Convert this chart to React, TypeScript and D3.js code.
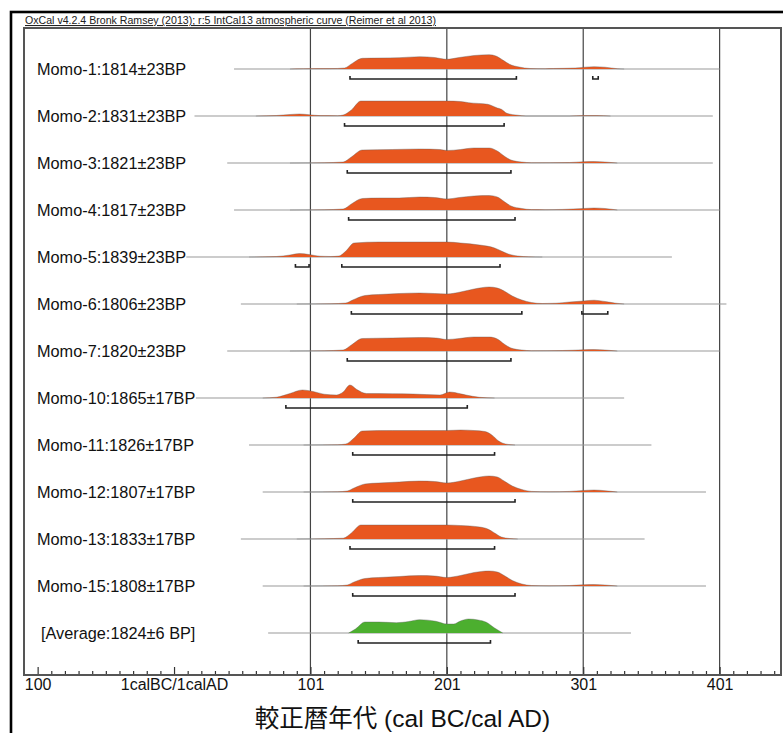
import React from "react";
import * as d3 from "d3";

const labels = [
  "Momo-1:1814±23BP",
  "Momo-2:1831±23BP",
  "Momo-3:1821±23BP",
  "Momo-4:1817±23BP",
  "Momo-5:1839±23BP",
  "Momo-6:1806±23BP",
  "Momo-7:1820±23BP",
  "Momo-10:1865±17BP",
  "Momo-11:1826±17BP",
  "Momo-12:1807±17BP",
  "Momo-13:1833±17BP",
  "Momo-15:1808±17BP",
  "[Average:1824±6 BP]",
];

// extent of each row's baseline (calendar axis units: 0 = 1calBC/1calAD boundary)
const lineStart = [44, 15, 39, 44, 9, 49, 39, 16, 55, 65, 49, 65, 69];
const lineEnd = [400, 395, 395, 400, 365, 405, 400, 330, 350, 390, 345, 390, 335];

// probability distributions [year, relative probability]
const densities: [number, number][][] = [
  [[85,0],[95,0.3],[115,0.4],[125,1],[130,5],[138,10.7],[151,11],[165,11.3],[180,12.3],[191,11.5],[200,9.7],[209,11.5],[220,13.5],[231,14.3],[236,13],[241,9],[246,4.7],[253,2],[261,0.5],[272,0.3],[278,0.5],[294,1],[301,1.8],[308,2.3],[316,1.8],[325,0.3],[330,0]],
  [[60,0],[75,0.5],[85,1.5],[92,2],[99,1.3],[107,0.4],[120,0.3],[124,1],[130,6],[137,15],[160,15],[180,15],[200,15],[210,14.5],[216,13.3],[230,11.7],[237,8],[240,6.7],[244,2.7],[252,0.8],[258,0],[290,0],[300,0.5],[310,0.5],[320,0]],
  [[85,0],[110,0.3],[124,1],[130,6],[138,13],[160,13.5],[180,14],[195,13.5],[200,12.5],[210,13.5],[220,15],[231,15],[237,12],[242,7],[247,3],[255,1],[262,0.3],[290,0.5],[300,1.3],[308,1.5],[316,1],[325,0]],
  [[85,0],[110,0.3],[124,1],[130,6],[138,11.5],[151,12],[165,12],[180,13],[191,12.5],[200,11],[209,12.5],[220,14],[231,14.5],[237,13],[242,8.5],[247,4],[255,1.5],[262,0.4],[272,0.3],[285,0.6],[300,1.5],[308,2],[316,1.5],[325,0]],
  [[55,0],[75,0.5],[85,2],[92,3.5],[99,2.5],[107,0.8],[115,0.5],[121,1],[126,6],[132,14],[150,15],[180,15],[200,15],[210,14],[224,12],[235,9],[240,6],[245,3],[252,1],[260,0.2],[270,0]],
  [[90,0],[115,0.3],[126,1],[131,4],[140,8.5],[150,9.5],[165,10.5],[180,11],[191,10.5],[200,10],[210,12],[220,15],[231,17],[237,16],[242,13],[248,8],[255,4],[262,1.5],[270,0.5],[280,0.8],[290,2],[300,3],[308,3.8],[316,2.5],[324,0.8],[330,0]],
  [[85,0],[110,0.3],[124,1],[130,6],[138,12.5],[160,13],[180,13.5],[192,13],[200,11.5],[209,12.5],[220,14],[231,14],[237,12],[242,7],[247,3],[255,1],[262,0.3],[285,0.5],[300,1.2],[308,1.5],[316,1],[325,0]],
  [[65,0],[75,0.8],[85,4.5],[94,8],[102,6.5],[110,3.8],[119,3],[124,6],[129,13],[134,8.5],[141,4.5],[160,4.3],[175,4],[195,3],[202,6],[210,4.2],[214,3],[224,0.7],[235,0]],
  [[95,0],[120,0.3],[126,1],[132,7],[138,14],[160,14.5],[180,14.5],[200,14.5],[210,15],[220,14.5],[228,13.5],[233,10],[238,4],[243,1],[250,0]],
  [[95,0],[120,0.3],[127,1],[132,4],[140,8],[150,9],[165,10],[180,11],[191,10.5],[200,9],[210,11],[220,14],[231,16],[237,15],[242,11],[248,6],[255,2.5],[262,0.6],[275,0.2],[290,0.6],[300,1.5],[308,2],[316,1.3],[325,0]],
  [[90,0],[110,0.3],[124,0.8],[130,6],[137,14],[160,14],[180,14],[200,14],[210,13.5],[224,12],[230,10],[235,6],[240,2],[246,0.5],[252,0]],
  [[95,0],[120,0.3],[127,1],[132,4],[140,7.5],[150,8.5],[165,9.5],[180,10.5],[191,10],[200,8.5],[210,10.5],[220,13.5],[231,15],[237,14],[242,10.5],[248,5.5],[255,2],[262,0.5],[275,0.2],[290,0.5],[300,1.2],[308,1.5],[316,1],[325,0]],
  [[128,0],[133,4],[140,11],[150,11],[163,10.3],[172,11.5],[180,13.3],[192,11.7],[200,9],[205,9],[210,12],[216,14],[223,13],[229,10.7],[235,5],[241,0]],
];

// 95.4% ranges
const ranges: [number, number][][] = [
  [[129, 251], [307, 311]],
  [[125, 242]],
  [[127, 247]],
  [[128, 250]],
  [[89, 99], [123, 239]],
  [[130, 255], [299, 318]],
  [[127, 247]],
  [[82, 215]],
  [[131, 235]],
  [[131, 250]],
  [[129, 235]],
  [[131, 250]],
  [[135, 232]],
];

const majorTicks = [-100, 0, 100, 200, 300, 400];
const tickLabels = ["100", "1calBC/1calAD", "101", "201", "301", "401"];
const gridValues = [100, 200, 300, 400];

const headerText =
  "OxCal v4.2.4 Bronk Ramsey (2013); r:5 IntCal13 atmospheric curve (Reimer et al 2013)";
const axisTitle = "較正暦年代 (cal BC/cal AD)";

const W = 783;
const H = 733;
const FONT = "'Liberation Sans', Arial, 'Noto Sans CJK JP', sans-serif";

export default function App() {
  const left = 24, right = 781, top = 28, bottom = 675;
  const x = d3.scaleLinear().domain([-110, 445]).range([left, right]);
  const y = d3.scalePoint<string>().domain(labels).range([69, 633]);
  const h = d3.scaleLinear().domain([0, 20]).range([0, 20]);
  const minorTicks = d3.range(-100, 441, 10).filter((v) => v % 100 !== 0);

  const axisRef = React.useRef<SVGGElement>(null);
  React.useEffect(() => {
    if (!axisRef.current) return;
    const g = d3.select(axisRef.current);
    g.selectAll("*").remove();
    const minor = d3.axisBottom(x).tickValues(minorTicks).tickSizeInner(-4).tickSizeOuter(0).tickFormat(() => "");
    const major = d3
      .axisBottom(x)
      .tickValues(majorTicks)
      .tickSizeInner(-8)
      .tickSizeOuter(0)
      .tickPadding(4)
      .tickFormat((_, i) => tickLabels[i]);
    const gm = g.append("g").call(minor);
    const gM = g.append("g").call(major);
    [gm, gM].forEach((gg) => {
      gg.select(".domain").remove();
      gg.selectAll("line").attr("stroke", "#333").attr("stroke-width", 1.2);
    });
    gM.selectAll("text")
      .attr("font-size", 16)
      .attr("font-family", FONT)
      .attr("fill", "#111");
  }, []);

  return (
    <svg
      width={W}
      height={H}
      style={{ position: "absolute", left: 0, top: 0, background: "#fff" }}
      fontFamily={FONT}
    >
      <rect x={11} y={12} width={900} height={900} fill="none" stroke="#000" strokeWidth={2.6} />
      <text x={25} y={24} fontSize={10.6} fill="#222" textDecoration="underline">
        {headerText}
      </text>
      {gridValues.map((v) => (
        <line key={v} x1={x(v)} x2={x(v)} y1={top} y2={bottom} stroke="#444" strokeWidth={1.2} />
      ))}
      {labels.map((lab, i) => {
        const by = y(lab)!;
        const area = d3
          .area<[number, number]>()
          .x((d) => x(d[0]))
          .y0(by)
          .y1((d) => by - h(d[1]))
          .curve(d3.curveMonotoneX);
        const topLine = d3
          .line<[number, number]>()
          .x((d) => x(d[0]))
          .y((d) => by - h(d[1]))
          .curve(d3.curveMonotoneX);
        const isAvg = i === labels.length - 1;
        return (
          <g key={lab}>
            <line x1={x(lineStart[i])} x2={x(lineEnd[i])} y1={by} y2={by} stroke="#999" strokeWidth={1} />
            <path d={area(densities[i]) || ""} fill={isAvg ? "#4caf2f" : "#e8571f"} />
            <path d={topLine(densities[i]) || ""} fill="none" stroke="rgba(90,90,90,0.55)" strokeWidth={0.7} />
            {ranges[i].map((r, j) => (
              <path
                key={j}
                d={`M${x(r[0])},${by + 7}V${by + 10}H${x(r[1])}V${by + 7}`}
                fill="none"
                stroke="#222"
                strokeWidth={1.6}
              />
            ))}
            <text x={isAvg ? 41 : 37} y={by + 6} fontSize={16.3} fill="#111">
              {lab}
            </text>
          </g>
        );
      })}
      <g ref={axisRef} transform={`translate(0,${bottom})`} />
      <rect x={left} y={top} width={right - left} height={bottom - top} fill="none" stroke="#555" strokeWidth={2} />
      <text x={(left + right) / 2} y={727} fontSize={24.5} textAnchor="middle" fill="#111">
        {axisTitle}
      </text>
    </svg>
  );
}
